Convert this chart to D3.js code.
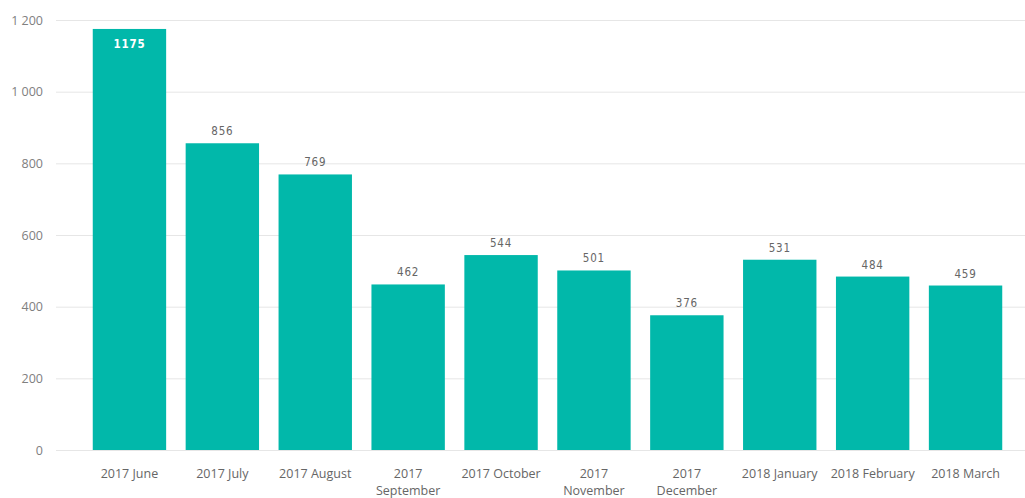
<!DOCTYPE html>
<html>
<head>
<meta charset="utf-8">
<script src="https://cdn.jsdelivr.net/npm/d3@7"></script>
<style>
  body { margin: 0; background: #fff; }
  svg { display: block; }
</style>
</head>
<body>
<div id="chart"></div>
<script>
// chart data
var months = ["2017 June", "2017 July", "2017 August", "2017 September", "2017 October",
              "2017 November", "2017 December", "2018 January", "2018 February", "2018 March"];
var counts = [1175, 856, 769, 462, 544, 501, 376, 531, 484, 459];
var yTicks = [0, 200, 400, 600, 800, 1000, 1200];
// labels that wrap onto two lines
var wrapped = ["2017 September", "2017 November", "2017 December"];

var svgWidth = 1025;
var svgHeight = 498;

var margin = { top: 20, right: 13, bottom: 48, left: 83 };
var chartWidth = svgWidth - margin.left - margin.right;
var chartHeight = svgHeight - margin.top - margin.bottom;
var gridLeft = 56;
var gridLen = svgWidth - gridLeft;

var svg = d3.select("#chart").append("svg")
  .attr("width", svgWidth)
  .attr("height", svgHeight);

var chartGroup = svg.append("g")
  .attr("transform", `translate(${margin.left}, ${margin.top})`);

var xScale = d3.scaleBand()
  .domain(months)
  .range([0, chartWidth])
  .paddingInner(0.21)
  .paddingOuter(0.105);

var yScale = d3.scaleLinear()
  .domain([0, 1200])
  .range([chartHeight, 0]);

// gridlines
var fmt = function(v) { return d3.format(",")(v).replace(/,/g, " "); };
var yAxis = d3.axisRight(yScale)
  .tickValues(yTicks)
  .tickSize(gridLen)
  .tickFormat(fmt);

var yG = chartGroup.append("g")
  .attr("class", "y-axis")
  .attr("transform", `translate(${gridLeft - margin.left}, 0)`)
  .call(yAxis)
  .call(g => g.select(".domain").remove());

yG.selectAll(".tick line").attr("stroke", "#e6e6e6");

// y labels on the left, right aligned
yG.selectAll(".tick text")
  .attr("x", -13)
  .attr("text-anchor", "end")
  .attr("fill", "#808080")
  .style("font-family", "'Open Sans', sans-serif")
  .style("font-size", "12.5px");

// bars
chartGroup.selectAll("rect.bar")
  .data(counts)
  .enter()
  .append("rect")
  .attr("class", "bar")
  .attr("x", (d, i) => xScale(months[i]))
  .attr("y", d => yScale(d))
  .attr("width", xScale.bandwidth())
  .attr("height", d => chartHeight - yScale(d))
  .attr("fill", "#01b8aa");

// value labels
chartGroup.selectAll("text.val")
  .data(counts)
  .enter()
  .append("text")
  .attr("class", "val")
  .attr("x", (d, i) => xScale(months[i]) + xScale.bandwidth() / 2)
  .attr("y", d => d > 1100 ? yScale(d) + 19 : yScale(d) - 8)
  .attr("text-anchor", "middle")
  .attr("fill", d => d > 1100 ? "#fff" : "#666")
  .style("font-family", "'DejaVu Sans Condensed', 'Roboto', sans-serif")
  .style("font-weight", d => d > 1100 ? "bold" : "normal")
  .style("letter-spacing", "0.8px")
  .style("font-size", "11.5px")
  .text(d => d);

// x labels
var xLabels = chartGroup.append("g")
  .attr("transform", `translate(0, ${chartHeight})`);

months.forEach(function(m) {
  var cx = xScale(m) + xScale.bandwidth() / 2;
  var t = xLabels.append("text")
    .attr("x", cx)
    .attr("y", 28)
    .attr("text-anchor", "middle")
    .attr("fill", "#666")
    .style("font-family", "'Open Sans', sans-serif")
    .style("font-size", "12.5px");
  var w = m.split(" ");
  if (wrapped.indexOf(m) >= 0) {
    t.append("tspan").attr("x", cx).text(w[0]);
    t.append("tspan").attr("x", cx).attr("dy", 17).text(w.slice(1).join(" "));
  } else {
    t.text(m);
  }
});
</script>
</body>
</html>
